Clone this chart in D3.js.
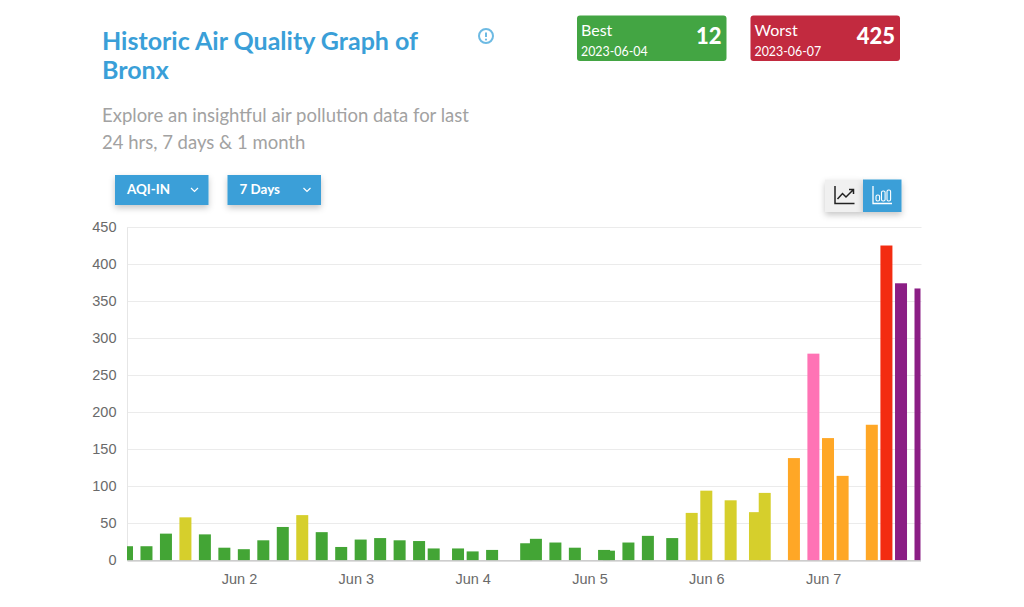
<!DOCTYPE html>
<html>
<head>
<meta charset="utf-8">
<script src="https://cdn.jsdelivr.net/npm/d3@7/dist/d3.min.js"></script>
<style>
html,body{margin:0;padding:0;background:#fff;overflow:hidden}
svg{display:block}
.ui{font-family:"Lato","Noto Sans",sans-serif}
.axis text{font-family:"Liberation Sans",Arial,sans-serif;font-size:14.5px;fill:#6a6a6a}
</style>
</head>
<body>
<svg id="c" width="1024" height="607"></svg>
<script>
const times = ["06-01 01","06-01 05","06-01 09","06-01 13","06-01 17","06-01 21",
"06-02 01","06-02 05","06-02 09","06-02 13","06-02 17","06-02 21",
"06-03 01","06-03 05","06-03 09","06-03 13","06-03 16","06-03 21",
"06-04 00","06-04 04","06-04 11","06-04 13","06-04 17","06-04 21",
"06-05 03","06-05 04","06-05 08","06-05 12","06-05 17","06-05 21",
"06-06 00","06-06 05","06-06 10","06-06 12","06-06 18","06-06 22",
"06-07 01","06-07 04","06-07 10","06-07 13","06-07 16","06-07 20"];
const values = [19,19,36,58,35,17,15,27,45,61,38,18,
28,30,27,26,16,16,12,14,23,29,24,17,
14,13,24,33,30,64,94,81,65,91,138,279,165,114,183,425,374,367];
const yTicks = [0,50,100,150,200,250,300,350,400,450];
const aqiBreaks = [51,101,201,301,401];
const aqiColors = ["#43a535","#d6cf2c","#ffa726","#ff73b5","#8b1e85","#f32c11"];
const titleLines = ["Historic Air Quality Graph of","Bronx"];
const subLines = ["Explore an insightful air pollution data for last","24 hrs, 7 days & 1 month"];

const parse = d3.timeParse("%Y-%m-%d %H");
const dates = times.map(t => parse("2023-" + t));
const svg = d3.select("#c");
const x = d3.scaleTime().domain([parse("2023-06-01 01"), parse("2023-06-07 20")]).range([127, 920.5]);
const y = d3.scaleLinear().domain([0,450]).range([560.3,227]);
const color = d3.scaleThreshold().domain(aqiBreaks).range(aqiColors);

const defs = svg.append("defs");
const sh = defs.append("filter").attr("id","sh").attr("x","-20%").attr("y","-30%").attr("width","140%").attr("height","170%");
sh.append("feDropShadow").attr("dx",0).attr("dy",3).attr("stdDeviation",3).attr("flood-color","#000").attr("flood-opacity",0.22);
defs.append("clipPath").attr("id","plot").append("rect").attr("x",127).attr("y",220).attr("width",793.5).attr("height",341);

// header
const ui = svg.append("g").attr("class","ui");
ui.selectAll("text.t").data(titleLines).join("text").attr("class","t").attr("x",102).attr("y",(d,i)=>50+i*29)
  .attr("font-size",25).attr("font-weight",700).attr("fill","#3a9fd8").text(d=>d);
ui.selectAll("text.s").data(subLines).join("text").attr("class","s").attr("x",102).attr("y",(d,i)=>122+i*27)
  .attr("font-size",18.5).attr("fill","#a2a2a2").text(d=>d);

// info icon
const info = ui.append("g").attr("transform","translate(486,36)");
info.append("circle").attr("r",7).attr("fill","none").attr("stroke","#6dbae3").attr("stroke-width",2);
info.append("line").attr("y1",-3.5).attr("y2",1).attr("stroke","#6dbae3").attr("stroke-width",2);
info.append("circle").attr("cy",3.6).attr("r",1.1).attr("fill","#6dbae3");

// cards
const cards = [
 {x:577,fill:"#43a543",k:"Best",d:"2023-06-04",v:"12"},
 {x:750.5,fill:"#c22a3f",k:"Worst",d:"2023-06-07",v:"425"}];
const card = ui.selectAll("g.card").data(cards).join("g").attr("class","card").attr("transform",d=>`translate(${d.x},15.5)`);
card.append("rect").attr("width",149.5).attr("height",45.5).attr("rx",3).attr("fill",d=>d.fill);
card.append("text").attr("x",4).attr("y",20.5).attr("font-size",16).attr("fill","#fff").text(d=>d.k);
card.append("text").attr("x",4).attr("y",40).attr("font-size",12.4).attr("fill","#fff").text(d=>d.d);
card.append("text").attr("x",144.5).attr("y",28.5).attr("text-anchor","end").attr("font-size",22).attr("font-weight",900).attr("fill","#fff").text(d=>d.v);

// dropdowns
const btns = [{x:115,l:"AQI-IN"},{x:227.5,l:"7 Days"}];
const btn = ui.selectAll("g.btn").data(btns).join("g").attr("class","btn").attr("transform",d=>`translate(${d.x},175)`);
btn.append("rect").attr("width",93.5).attr("height",30).attr("fill","#3a9fd8").attr("filter","url(#sh)");
btn.append("text").attr("x",12).attr("y",19).attr("font-size",13.4).attr("font-weight",700).attr("fill","#fff").text(d=>d.l);
btn.append("path").attr("d","M76 13 L79.5 16.5 L83 13").attr("fill","none").attr("stroke","#fff").attr("stroke-width",1.2);

// toggle buttons
const tg = ui.append("g");
tg.append("rect").attr("x",825).attr("y",179.5).attr("width",38).attr("height",32.5).attr("fill","#f0f0f0").attr("filter","url(#sh)");
tg.append("rect").attr("x",863).attr("y",179.5).attr("width",38.5).attr("height",32.5).attr("fill","#3a9fd8").attr("filter","url(#sh)");
tg.append("path").attr("d","M835 186 V203.5 H854.5 M837.5 199 L842.5 193.5 L846 197 L853 190 M849 189.5 H853.5 V194")
  .attr("fill","none").attr("stroke","#222").attr("stroke-width",1.5);
tg.append("path").attr("d","M873 186 V203.5 H892")
  .attr("fill","none").attr("stroke","#fff").attr("stroke-width",1.3);
tg.selectAll("rect.mini").data([[876,6],[881.5,10],[887,11]]).join("rect").attr("class","mini")
  .attr("x",d=>d[0]).attr("y",d=>201-d[1]).attr("width",3.6).attr("height",d=>d[1]).attr("rx",1.6)
  .attr("fill","none").attr("stroke","#fff").attr("stroke-width",1.1);

// grid
svg.append("g").selectAll("line").data(yTicks.filter(d=>d>0)).join("line")
  .attr("x1",x.range()[0]).attr("x2",921.5).attr("y1",d=>Math.round(y(d))+0.5).attr("y2",d=>Math.round(y(d))+0.5)
  .attr("stroke","#ebebeb").attr("stroke-width",1);

// y axis
const ya = svg.append("g").attr("class","axis").attr("transform","translate(127,0)")
  .call(d3.axisLeft(y).tickValues(yTicks).tickSize(0).tickPadding(10.5));
ya.select(".domain").attr("stroke","#e6e6e6");

// bars
svg.append("g").attr("clip-path","url(#plot)").selectAll("rect").data(values).join("rect")
  .attr("x",(d,i)=>x(dates[i])-6).attr("width",12)
  .attr("y",d=>y(d)).attr("height",d=>y(0)-y(d))
  .attr("fill",d=>color(d));

// x axis
const xa = svg.append("g").attr("class","axis").attr("transform","translate(0,560.3)")
  .call(d3.axisBottom(x).ticks(d3.timeDay.every(1)).tickFormat(d3.timeFormat("%b %-d")).tickSize(0).tickPadding(13.5));
xa.select(".domain").attr("stroke","#bdbdbd").attr("stroke-width",1.2);
</script>
</body>
</html>
